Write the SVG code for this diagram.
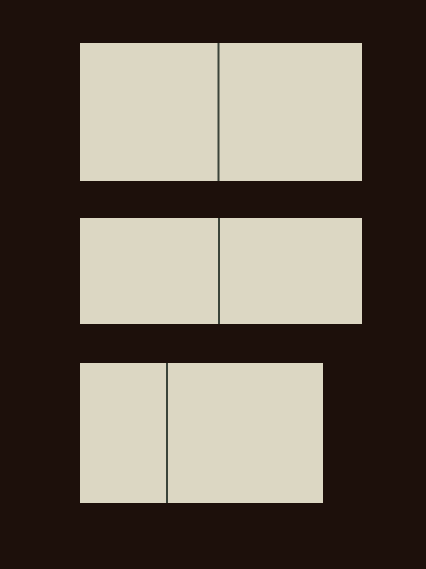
<svg xmlns="http://www.w3.org/2000/svg" width="426" height="569" viewBox="0 0 426 569">
<style>
.p{fill:#dcd7c3}
.d{stroke:#3b4339;stroke-width:2}
</style>
<rect width="426" height="569" fill="#1d100b"/>
<g id="row1">
<rect class="p" x="80" y="43" width="282" height="138"/>
<line class="d" x1="218.5" y1="43" x2="218.5" y2="181"/>
</g>
<g id="row2">
<rect class="p" x="80" y="218" width="282" height="106"/>
<line class="d" x1="219" y1="218" x2="219" y2="324"/>
</g>
<g id="row3">
<rect class="p" x="80" y="363" width="243" height="140"/>
<line class="d" x1="167" y1="363" x2="167" y2="503"/>
</g>
</svg>
